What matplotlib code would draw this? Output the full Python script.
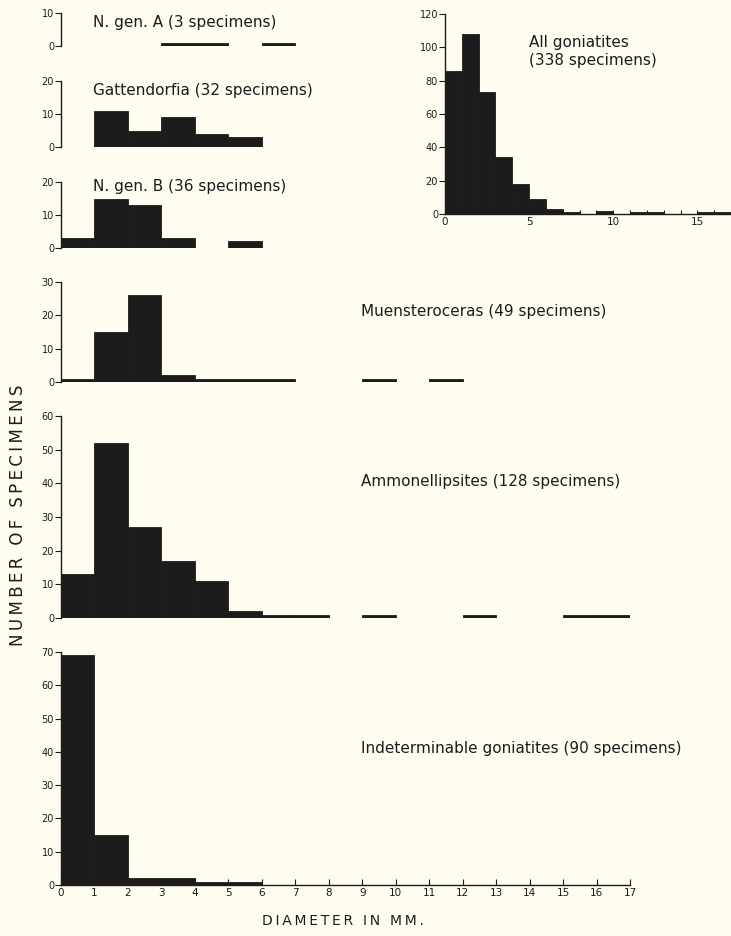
import numpy as np
import matplotlib
matplotlib.use("Agg")
import matplotlib.pyplot as plt

# histogram data: left edge of each 1 mm bin and number of specimens
ngen_a_bins = [3, 4, 6]
ngen_a_counts = [1, 1, 1]

gatt_bins = [1, 2, 3, 4, 5]
gatt_counts = [11, 5, 9, 4, 3]

ngen_b_bins = [0, 1, 2, 3, 5]
ngen_b_counts = [3, 15, 13, 3, 2]

muen_bins = [0, 1, 2, 3, 4, 5, 6, 9, 11]
muen_counts = [1, 15, 26, 2, 1, 1, 1, 1, 1]

ammo_bins = [0, 1, 2, 3, 4, 5, 6, 7, 9, 12, 15, 16]
ammo_counts = [13, 52, 27, 17, 11, 2, 1, 1, 1, 1, 1, 1]

indet_bins = [0, 1, 2, 3, 4, 5]
indet_counts = [69, 15, 2, 2, 1, 1]

all_bins = [0, 1, 2, 3, 4, 5, 6, 7, 9, 11, 12, 15, 16]
all_counts = [86, 108, 73, 34, 18, 9, 3, 1, 2, 1, 1, 1, 1]

ngen_a_label = "N. gen. A (3 specimens)"
gatt_label = "Gattendorfia (32 specimens)"
ngen_b_label = "N. gen. B (36 specimens)"
muen_label = "Muensteroceras (49 specimens)"
ammo_label = "Ammonellipsites (128 specimens)"
indet_label = "Indeterminable goniatites (90 specimens)"
all_label = "All goniatites\n(338 specimens)"
ylabel = "NUMBER OF SPECIMENS"
xlabel = "DIAMETER IN MM."

BG = "#fffdf0"
INK = "#1c1c1c"
W, H = 731, 936

plt.rcParams['font.family'] = ['DejaVu Sans']

fig = plt.figure(figsize=(W / 100, H / 100), dpi=100)
fig.patch.set_facecolor(BG)


def px_axes(x0, x1, y_top, y_bottom):
    # axes placed from pixel coordinates of the reference
    return fig.add_axes([x0 / W, 1 - y_bottom / H, (x1 - x0) / W, (y_bottom - y_top) / H])


def spaced(s):
    # wide letter spacing like the original lettering (thin space between letters)
    return "\u2009".join(s)


def panel(ax, bins, counts, ymax, ystep, show_x=False):
    ax.set_facecolor("none")
    ax.bar(bins, counts, width=1.0, align="edge", color=INK, edgecolor=INK, linewidth=0.6)
    ax.set_xlim(0, 17)
    ax.set_ylim(0, ymax)
    ax.set_yticks(np.arange(0, ymax + 1, ystep))
    for s in ["top", "right"]:
        ax.spines[s].set_visible(False)
    ax.spines["left"].set_color(INK)
    ax.spines["left"].set_linewidth(1.0)
    ax.tick_params(axis="y", direction="out", length=4, width=0.8, labelsize=7, pad=1, colors=INK)
    if show_x:
        ax.spines["bottom"].set_color(INK)
        ax.spines["bottom"].set_linewidth(1.0)
        ax.set_xticks(range(0, 18))
        ax.tick_params(axis="x", direction="in", length=4, width=0.8, labelsize=7.5, pad=2, colors=INK)
    else:
        ax.spines["bottom"].set_visible(False)
        ax.set_xticks([])


x0, x17 = 61, 630

ax_a = px_axes(x0, x17, 13, 46)
panel(ax_a, ngen_a_bins, ngen_a_counts, 10, 10)

ax_g = px_axes(x0, x17, 81, 147)
panel(ax_g, gatt_bins, gatt_counts, 20, 10)

ax_b = px_axes(x0, x17, 182, 248)
panel(ax_b, ngen_b_bins, ngen_b_counts, 20, 10)

ax_m = px_axes(x0, x17, 282, 382)
panel(ax_m, muen_bins, muen_counts, 30, 10)

ax_am = px_axes(x0, x17, 416, 618)
panel(ax_am, ammo_bins, ammo_counts, 60, 10)

ax_i = px_axes(x0, x17, 652, 885)
panel(ax_i, indet_bins, indet_counts, 70, 10, show_x=True)

# inset with all goniatites, half scale
ax_all = px_axes(445, 731, 14, 214)
panel(ax_all, all_bins, all_counts, 120, 20, show_x=True)
ax_all.set_xticks(range(0, 18))
ax_all.set_xticklabels([str(i) if i % 5 == 0 else "" for i in range(0, 18)])
ax_all.tick_params(axis="x", length=3)

# panel titles
lbl = dict(fontsize=11, color=INK, va="center", ha="left")
fig.text(93 / W, 1 - 22 / H, ngen_a_label, **lbl)
fig.text(93 / W, 1 - 90 / H, gatt_label, **lbl)
fig.text(93 / W, 1 - 187 / H, ngen_b_label, **lbl)
fig.text(361 / W, 1 - 312 / H, muen_label, **lbl)
fig.text(361 / W, 1 - 482 / H, ammo_label, **lbl)
fig.text(361 / W, 1 - 748 / H, indet_label, **lbl)
fig.text(529 / W, 1 - 52 / H, all_label, fontsize=11, color=INK, va="center", ha="left",
         linespacing=1.25)

fig.text(18 / W, 1 - 515 / H, spaced(ylabel), rotation=90, fontsize=12,
         color=INK, ha="center", va="center")
fig.text(343 / W, 1 - 921 / H, spaced(xlabel), fontsize=10, color=INK,
         ha="center", va="center")

fig.savefig("out.png", dpi=100, facecolor=BG)
